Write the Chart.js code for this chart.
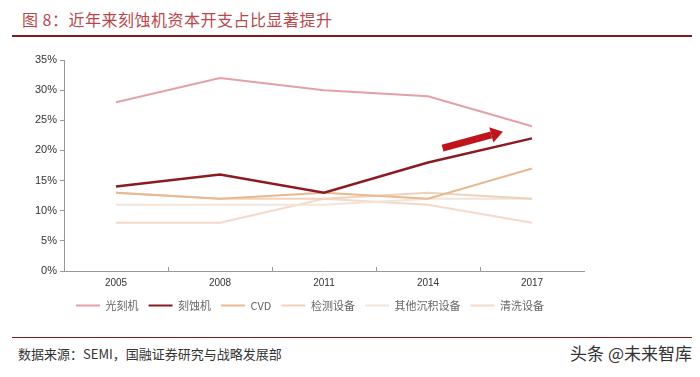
<!DOCTYPE html>
<html>
<head>
<meta charset="utf-8">
<script src="https://cdn.jsdelivr.net/npm/chart.js@4.4.1/dist/chart.umd.min.js"></script>
<style>
    html, body { margin: 0; padding: 0; background: #fff; }
    body { width: 700px; height: 377px; position: relative; overflow: hidden; font-family: "Noto Sans CJK SC", sans-serif; }
    #title { position: absolute; left: 22px; top: 7px; font-size: 16px; color: #b8474c; letter-spacing: 0.5px; }
    #titleRule { position: absolute; left: 12px; top: 35px; width: 680px; height: 2px; background: #7c1d22; }
    #footRule { position: absolute; left: 12px; top: 337px; width: 680px; height: 1px; background: #7c1d22; }
    #source { position: absolute; left: 18px; top: 344px; font-size: 13px; color: #333; }
    #mark { position: absolute; right: 8px; top: 340px; font-size: 17px; color: #333; }
    #wrap { position: absolute; left: 0; top: 40px; width: 700px; height: 283px; }
</style>
</head>
<body>
<div id="title">图 8：近年来刻蚀机资本开支占比显著提升</div>
<div id="titleRule"></div>
<div id="wrap"><canvas id="chart"></canvas></div>
<div id="footRule"></div>
<div id="source">数据来源：SEMI，国融证券研究与战略发展部</div>
<div id="mark">头条 @未来智库</div>
<script>
const years = ['2005', '2008', '2011', '2014', '2017'];
const litho = [28, 32, 30, 29, 24];
const etch = [14, 16, 13, 18, 22];
const cvd = [13, 12, 13, 12, 17];
const inspection = [13, 12, 12, 13, 12];
const otherDeposition = [11, 11, 11, 12, 12];
const cleaning = [8, 8, 12, 11, 8];
const seriesNames = ['光刻机', '刻蚀机', 'CVD', '检测设备', '其他沉积设备', '清洗设备'];
// arrow annotation in data units: [category index, percent]
const arrowFrom = [3.14, 20.4];
const arrowTo = [3.72, 23.1];

const colors = ['#e3a1a7', '#8c1a22', '#e9b88f', '#eed3bb', '#f1e4d9', '#f4d9c8'];
const widths = [2, 2.5, 2, 2, 2, 2];
const values = [litho, etch, cvd, inspection, otherDeposition, cleaning];

const arrowPlugin = {
    id: 'arrow',
    afterDatasetsDraw(chart) {
        const { ctx, scales } = chart;
        const x1 = scales.x.getPixelForValue(arrowFrom[0]);
        const y1 = scales.y.getPixelForValue(arrowFrom[1]);
        const x2 = scales.x.getPixelForValue(arrowTo[0]);
        const y2 = scales.y.getPixelForValue(arrowTo[1]);
        const ang = Math.atan2(y2 - y1, x2 - x1);
        const head = 12;
        const bx = x2 - head * Math.cos(ang);
        const by = y2 - head * Math.sin(ang);
        ctx.save();
        ctx.strokeStyle = '#c0141c';
        ctx.fillStyle = '#c0141c';
        ctx.lineWidth = 7;
        ctx.beginPath();
        ctx.moveTo(x1, y1);
        ctx.lineTo(bx, by);
        ctx.stroke();
        ctx.beginPath();
        ctx.moveTo(x2, y2);
        ctx.lineTo(bx + 8 * Math.sin(ang), by - 8 * Math.cos(ang));
        ctx.lineTo(bx - 8 * Math.sin(ang), by + 8 * Math.cos(ang));
        ctx.closePath();
        ctx.fill();
        ctx.restore();
    }
};

// x-axis tick marks point up into the plot, between categories
const innerTicks = {
    id: 'innerTicks',
    afterDraw(chart) {
        const { ctx, scales, chartArea } = chart;
        const step = scales.x.getPixelForValue(1) - scales.x.getPixelForValue(0);
        ctx.save();
        ctx.strokeStyle = '#999';
        ctx.lineWidth = 1;
        for (let i = 0; i < years.length - 1; i++) {
            const x = Math.round(scales.x.getPixelForValue(i) + step / 2) + 0.5;
            ctx.beginPath();
            ctx.moveTo(x, chartArea.bottom);
            ctx.lineTo(x, chartArea.bottom - 4);
            ctx.stroke();
        }
        ctx.restore();
    }
};

// the legend sits a bit right of the plot centre in the source
const legendShift = {
    id: 'legendShift',
    beforeDraw(chart) {
        chart.legend.left += 8;
        chart.legend.right += 8;
    }
};

new Chart(document.getElementById('chart'), {
    type: 'line',
    data: {
        labels: years,
        datasets: values.map((v, i) => ({
            label: seriesNames[i],
            data: v,
            borderColor: colors[i],
            backgroundColor: colors[i],
            borderWidth: widths[i],
            pointRadius: 0,
            tension: 0,
            order: i === 1 ? 0 : i + 1
        }))
    },
    options: {
        responsive: true,
        maintainAspectRatio: false,
        animation: false,
        layout: { padding: { top: 20, right: 116, left: 20, bottom: 2 } },
        plugins: {
            tooltip: { enabled: false },
            legend: {
                position: 'bottom',
                labels: {
                    boxWidth: 24,
                    boxHeight: 2,
                    padding: 10,
                    color: '#666',
                    font: { family: '"Noto Sans CJK SC", sans-serif', size: 11 },
                    sort: (a, b) => a.datasetIndex - b.datasetIndex,
                    generateLabels(chart) {
                        const items = Chart.defaults.plugins.legend.labels.generateLabels(chart);
                        items.forEach((it) => { it.lineWidth = 0; });
                        return items;
                    }
                }
            }
        },
        scales: {
            x: {
                offset: true,
                grid: { display: false, offset: true },
                border: { color: '#999' },
                afterFit(scale) { scale.height += 3; },
                ticks: { color: '#333', padding: -2, font: { family: '"Liberation Sans", Arial', size: 10 } }
            },
            y: {
                min: 0,
                max: 35,
                grid: { drawOnChartArea: false, tickLength: 4, color: '#999' },
                border: { color: '#999' },
                afterFit(scale) { scale.width = 44; },
                ticks: {
                    stepSize: 5,
                    padding: 3,
                    color: '#333',
                    font: { family: '"Liberation Sans", Arial', size: 11 },
                    callback: (v) => v + '%'
                }
            }
        }
    },
    plugins: [arrowPlugin, innerTicks, legendShift]
});
</script>
</body>
</html>
